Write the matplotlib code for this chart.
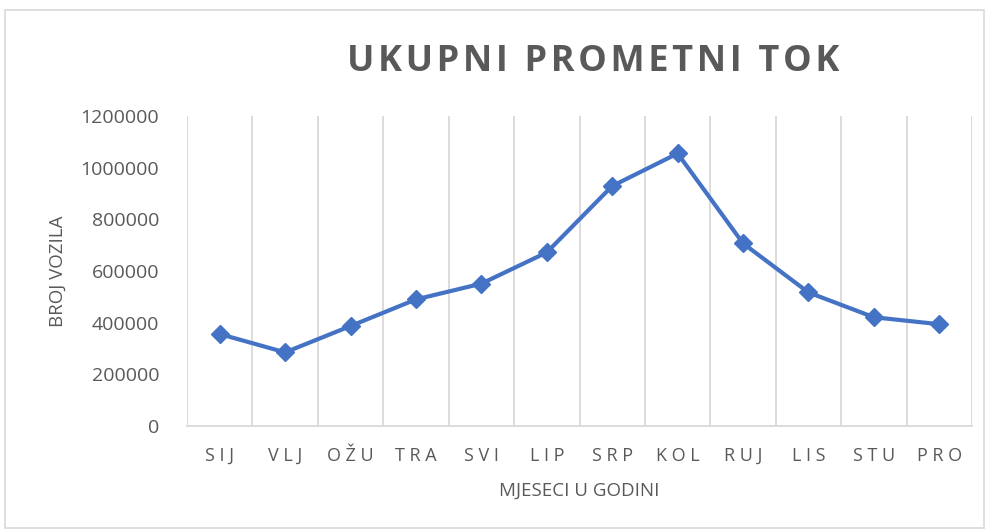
import matplotlib
matplotlib.use("Agg")
import matplotlib.pyplot as plt
from matplotlib.patches import Rectangle

plt.rcParams['font.family'] = ['Open Sans', 'DejaVu Sans']

# ---------------------------
# DATA
# ---------------------------

months = ["SIJ", "VLJ", "OŽU", "TRA", "SVI", "LIP", "SRP", "KOL", "RUJ", "LIS", "STU", "PRO"]
vehicles = [356000, 285000, 387000, 490000, 551000, 672000,
            929000, 1055000, 707000, 517000, 421000, 394000]
y_ticks = [0, 200000, 400000, 600000, 800000, 1000000, 1200000]

title = "UKUPNI PROMETNI TOK"
x_label = "MJESECI U GODINI"
y_label = "BROJ VOZILA"

text_col = "#595959"
line_col = "#4472C4"
grid_col = "#D9D9D9"


def spaced(s, sep="\u2009"):
    return sep.join(s)


# ---------------------------
# FIGURE
# ---------------------------

fig = plt.figure(figsize=(9.87, 5.31), dpi=100)
fig.patches.append(Rectangle((5 / 987, 3 / 531), 979 / 987, 518 / 531,
                             transform=fig.transFigure, fill=False,
                             edgecolor="#D9D9D9", linewidth=1.2))

ax = fig.add_axes([187 / 987, 1 - 426 / 531, 785 / 987, 310 / 531])

x = list(range(len(months)))
ax.plot(x, vehicles, color=line_col, linewidth=3, marker="D", markersize=9,
        markerfacecolor=line_col, markeredgecolor=line_col, zorder=3)

ax.set_xlim(-0.5, len(months) - 0.5)
ax.set_ylim(0, 1200000)

# vertical gridlines between categories
for b in range(len(months) + 1):
    ax.axvline(b - 0.5, color=grid_col, linewidth=1.3, zorder=1)

ax.set_xticks(x)
ax.set_xticklabels([spaced(m, " ") for m in months], color=text_col, fontsize=13)
ax.set_yticks(y_ticks)
ax.set_yticklabels([str(v) for v in y_ticks], color=text_col, fontsize=14)
ax.tick_params(axis="both", length=0)
ax.tick_params(axis="x", pad=15)
ax.tick_params(axis="y", pad=20)

for side in ["top", "right", "left"]:
    ax.spines[side].set_visible(False)
ax.spines["bottom"].set_color(grid_col)
ax.spines["bottom"].set_linewidth(1.3)

ax.set_xlabel(x_label, color=text_col, fontsize=13.5, labelpad=12)
ax.set_ylabel(y_label, color=text_col, fontsize=13.5, labelpad=10)

fig.text(593 / 987, 1 - 62 / 531, spaced(title, "\u200a"), color=text_col,
         fontsize=26, fontweight="bold", ha="center", va="center")

fig.savefig("out.png", dpi=100)
